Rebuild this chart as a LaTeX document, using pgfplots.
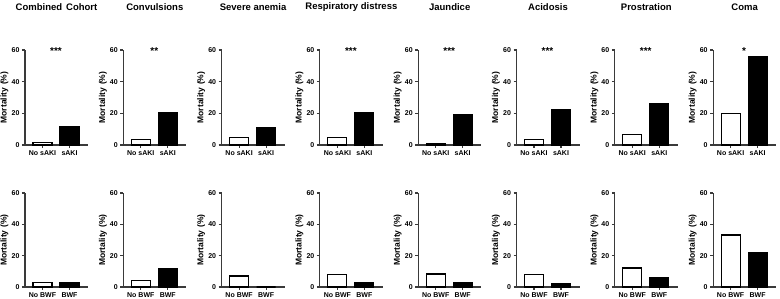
\documentclass[border=0pt]{standalone}
\usepackage{fontspec}
\setmainfont{Liberation Sans}
\usepackage{pgfplots}
\pgfplotsset{compat=1.18}
\definecolor{axgray}{HTML}{3A3A3A}
\pgfplotsset{
  pan/.style={
    scale only axis, width=63pt,
    xmin=-0.648, xmax=1.685, ymin=0, ymax=60,
    axis lines=left, axis line style={-, axgray, line width=1.1pt},
    xtick={0,1}, ytick={0,20,40,60},
    tick style={axgray, line width=1.1pt},
    major tick length=3pt, tick align=outside,
    /pgf/number format/assume math mode=true,
    tick label style={font=\bfseries\fontsize{7}{7}\selectfont, text=black},
    xticklabel style={yshift=1pt},
    yticklabel style={xshift=1pt},
    ylabel={Mortality\hspace{3pt}(\%)},
    ylabel style={font=\bfseries\fontsize{8.5}{9}\selectfont, at={(axis description cs:0,0.5)}, anchor=south, xshift=0pt, yshift=13pt},
    title style={font=\bfseries\fontsize{9.5}{10}\selectfont, at={(0.5,1)}, anchor=center, yshift=37pt},
    clip=false,
  },
  bw/.style={ybar, bar width=19pt, bar shift=0pt, draw=black, line width=1.1pt},
}
\newcommand{\toppanel}[5]{%
\begin{axis}[pan, at={(#1pt,154pt)}, height=95pt, title={#2}, xticklabels={No sAKI,sAKI}]
\addplot[bw, fill=white] coordinates {(0,#3)};
\addplot[bw, fill=black] coordinates {(1,#4)};
\node[font=\bfseries\fontsize{10}{10}\selectfont, yshift=-1pt] at (axis cs:0.5,60) {#5};
\end{axis}}
\newcommand{\botpanel}[3]{%
\begin{axis}[pan, at={(#1pt,12pt)}, height=94pt, xticklabels={No BWF,BWF}]
\addplot[bw, fill=white] coordinates {(0,#2)};
\addplot[bw, fill=black] coordinates {(1,#3)};
\end{axis}}
\begin{document}
\begin{tikzpicture}[x=1pt,y=1pt]
\useasboundingbox (0,0) rectangle (780,299);
\toppanel{25}{Combined\hspace{4pt}Cohort}{1.5}{11.6}{***}
\toppanel{123.3}{Convulsions}{3.6}{20.4}{**}
\toppanel{221.6}{Severe anemia}{4.8}{11.2}{}
\toppanel{319.9}{Respiratory distress}{4.8}{20.3}{***}
\toppanel{418.2}{Jaundice}{1.0}{19.4}{***}
\toppanel{516.5}{Acidosis}{3.2}{22.1}{***}
\toppanel{614.8}{Prostration}{6.7}{26.3}{***}
\toppanel{713.1}{Coma}{20.0}{55.8}{*}
\botpanel{25}{3.0}{2.6}
\botpanel{123.3}{4.3}{11.9}
\botpanel{221.6}{7.0}{0}
\botpanel{319.9}{7.7}{3.0}
\botpanel{418.2}{8.3}{3.0}
\botpanel{516.5}{8.1}{2.1}
\botpanel{614.8}{12.1}{6.0}
\botpanel{713.1}{33.2}{22.1}
\end{tikzpicture}
\end{document}
